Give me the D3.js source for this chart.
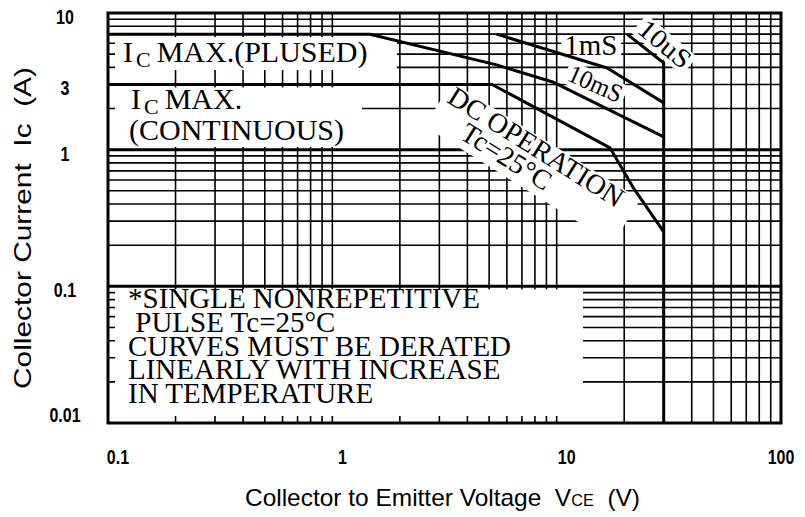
<!DOCTYPE html>
<html lang="en">
<head>
<meta charset="UTF-8">
<title>Safe Operating Area</title>
<style>
  body { margin: 0; background: #fff; }
  svg text { white-space: pre; }
</style>
<script src="https://cdn.jsdelivr.net/npm/d3@7/dist/d3.min.js"></script>
</head>
<body>
<script>
// tick labels
var xTickLabels = [0.1, 1, 10, 100];
var yTickLabels = [10, 3, 1, 0.1, 0.01];
var gridSteps = [1, 2, 3, 4, 5, 6, 7, 8, 9];

// SOA boundaries, [Vce (V), Ic (A)]
var pulsedMax = [[0.1, 7], [1.47, 7]];
var dcOperation = [[0.1, 3], [5.15, 3], [17.3, 1.03], [21.9, 0.53], [30, 0.25]];
var pulse10ms = [[1.47, 7], [5.4, 4.17], [9.6, 3.13], [30, 1.24]];
var pulse1ms = [[5.4, 7], [16.8, 3.96], [30, 2.2]];
var pulse10us = [[20.6, 7], [30, 4.31], [30, 0.01]];

var noteLines = ['*SINGLE NONREPETITIVE', ' PULSE Tc=25°C', 'CURVES MUST BE DERATED',
                 'LINEARLY WITH INCREASE', 'IN TEMPERATURE'];

var width = 805, height = 517;
var pL = 108, pT = 13, pR = 781, pB = 423;
var serif = '"Liberation Serif", "Times New Roman", serif';
var sans = '"Liberation Sans", Arial, sans-serif';

var svg = d3.select('body').append('svg')
  .attr('width', width)
  .attr('height', height);

var x = d3.scaleLog().domain([0.1, 100]).range([pL, pR]);
var y = d3.scaleLog().domain([0.01, 10]).range([pB, pT]);

// grid values, 1..9 in every decade
var xGrid = [], yGrid = [];
[0.1, 1, 10].forEach(function(d) {
  gridSteps.forEach(function(s) { xGrid.push(+(s * d).toPrecision(3)); });
});
[0.01, 0.1, 1].forEach(function(d) {
  gridSteps.forEach(function(s) { yGrid.push(+(s * d).toPrecision(3)); });
});
xGrid = xGrid.filter(function(v) { return v > 0.1; });
yGrid = yGrid.filter(function(v) { return v > 0.01; });

var grid = svg.append('g').attr('stroke', '#000').attr('fill', 'none');
grid.selectAll('.vg').data(xGrid).enter().append('line')
  .attr('x1', function(d) { return x(d); })
  .attr('x2', function(d) { return x(d); })
  .attr('y1', pT).attr('y2', pB)
  .attr('stroke-width', 1.6);
grid.selectAll('.hg').data(yGrid).enter().append('line')
  .attr('y1', function(d) { return y(d); })
  .attr('y2', function(d) { return y(d); })
  .attr('x1', pL).attr('x2', pR)
  .attr('stroke-width', function(d) { return (d === 1 || d === 0.1) ? 3 : 1.6; });

// white boxes behind the notes
var boxes = svg.append('g').attr('fill', '#fff');
boxes.append('rect').attr('x', pL + 7).attr('y', y(7) + 3)
  .attr('width', 397 - pL - 7).attr('height', 70 - y(7) - 3);
boxes.append('rect').attr('x', pL + 7).attr('y', y(3) + 3)
  .attr('width', 362 - pL - 7).attr('height', 147 - y(3) - 3);
boxes.append('rect').attr('x', pL + 7).attr('y', y(0.1) + 3)
  .attr('width', 583 - pL - 7).attr('height', pB - 7 - y(0.1) - 3);
boxes.append('rect').attr('x', x(10.8) - 3).attr('y', 35.5)
  .attr('width', 60).attr('height', 22);

// rotated labels on curves (anchor in data units)
function rotLabel(v, i, angle, bg) {
  var g = svg.append('g')
    .attr('transform', 'translate(' + x(v) + ',' + y(i) + ') rotate(' + angle + ')');
  g.append('rect').attr('x', bg[0]).attr('y', bg[1])
    .attr('width', bg[2]).attr('height', bg[3]).attr('fill', '#fff');
  return g;
}
var dcLab = rotLabel(3.2, 2.25, 32, [-5, -20, 222, 52]);
var ms10Lab = rotLabel(11.0, 3.23, 24, [-3, -20, 63, 24]);
var us10Lab = rotLabel(22.6, 7.3, 40, [-3, -20, 66, 24]);

// SOA curves
var line = d3.line()
  .x(function(d) { return x(d[0]); })
  .y(function(d) { return y(d[1]); });
var curves = [pulsedMax, dcOperation, pulse10ms, pulse1ms, pulse10us];
svg.append('g').selectAll('path').data(curves).enter().append('path')
  .attr('d', line)
  .attr('fill', 'none')
  .attr('stroke', '#000')
  .attr('stroke-width', 3)
  .attr('stroke-linejoin', 'round');

// curve label texts
dcLab.append('text').attr('x', 0).attr('y', 0)
  .attr('font-family', serif).attr('font-size', 28).text('DC OPERATION');
dcLab.append('text').attr('x', 30).attr('y', 24)
  .attr('font-family', serif).attr('font-size', 28).text('Tc=25°C');
ms10Lab.append('text').attr('font-family', serif).attr('font-size', 26)
  .attr('textLength', 57).attr('lengthAdjust', 'spacingAndGlyphs').text('10mS');
us10Lab.append('text').attr('font-family', serif).attr('font-size', 27)
  .attr('textLength', 60).attr('lengthAdjust', 'spacingAndGlyphs').text('10uS');
svg.append('text').attr('x', x(10.8)).attr('y', 55)
  .attr('font-family', serif).attr('font-size', 29).text('1mS');

// Ic max notes
function icText(tx, ty, rest) {
  var t = svg.append('text').attr('x', tx).attr('y', ty)
    .attr('font-family', serif).attr('font-size', 30);
  t.append('tspan').text('I');
  t.append('tspan').attr('dx', 3).attr('dy', 5).attr('font-size', 22).text('C');
  t.append('tspan').attr('dy', -5).attr('dx', 6).text(rest);
}
icText(123, 62, 'MAX.(PLUSED)');
icText(131, 109, 'MAX.');
svg.append('text').attr('x', 129).attr('y', 140)
  .attr('font-family', serif).attr('font-size', 30).text('(CONTINUOUS)');

svg.append('g').selectAll('text').data(noteLines).enter().append('text')
  .attr('x', 128)
  .attr('y', function(d, i) { return 308 + i * 23.8; })
  .attr('font-family', serif).attr('font-size', 29)
  .text(function(d) { return d; });

// frame
svg.append('rect').attr('x', pL).attr('y', pT)
  .attr('width', pR - pL).attr('height', pB - pT)
  .attr('fill', 'none').attr('stroke', '#000').attr('stroke-width', 3);

// tick labels (bold, a little condensed)
svg.append('g').selectAll('text').data(yTickLabels).enter().append('text')
  .attr('transform', function(d) {
    return 'translate(65,' + Math.min(y(d) + 4, pB - 8) + ') scale(0.8,1)';
  })
  .attr('dy', '0.35em')
  .attr('text-anchor', 'middle')
  .attr('font-family', sans).attr('font-weight', 'bold').attr('font-size', 20)
  .text(function(d) { return d; });
svg.append('g').selectAll('text').data(xTickLabels).enter().append('text')
  .attr('transform', function(d) {
    return 'translate(' + Math.min(x(d) + 10, pR) + ',457) scale(0.8,1)';
  })
  .attr('dy', '0.35em')
  .attr('text-anchor', 'middle')
  .attr('font-family', sans).attr('font-weight', 'bold').attr('font-size', 20)
  .text(function(d) { return d; });

// axis titles
var xt = svg.append('text').attr('x', 245).attr('y', 506)
  .attr('font-family', sans).attr('font-size', 24)
  .attr('textLength', 395).attr('lengthAdjust', 'spacingAndGlyphs');
xt.append('tspan').text('Collector to Emitter Voltage  V');
xt.append('tspan').attr('font-size', 16).text('CE');
xt.append('tspan').text('  (V)');

svg.append('text')
  .attr('transform', 'translate(31,228) rotate(-90)')
  .attr('text-anchor', 'middle')
  .attr('font-family', sans).attr('font-size', 24)
  .attr('textLength', 322).attr('lengthAdjust', 'spacingAndGlyphs')
  .text('Collector Current  Ic  (A)');
</script>
</body>
</html>
